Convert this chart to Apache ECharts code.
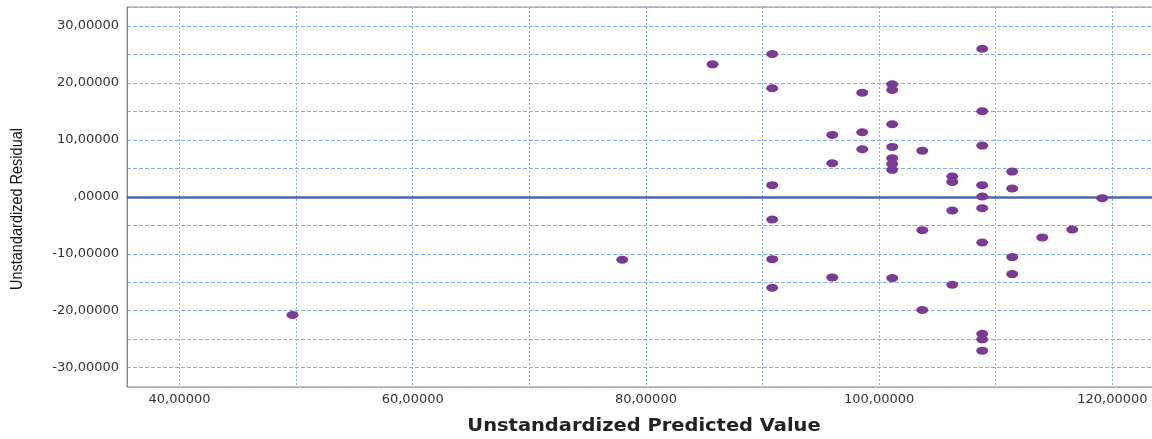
<!DOCTYPE html>
<html>
<head>
<meta charset="utf-8">
<script src="https://cdn.jsdelivr.net/npm/echarts@6/dist/echarts.min.js"></script>
<style>
  html, body { margin: 0; padding: 0; background: #ffffff; }
  #chart { width: 1152px; height: 439px; }
</style>
</head>
<body>
<div id="chart"></div>
<script>
// Predicted values (x) and residuals (y), one entry per case
const predicted = [
  49.69, 77.97, 85.71,
  90.83, 90.83, 90.83, 90.83, 90.83, 90.83,
  95.98, 95.98, 95.98,
  98.55, 98.55, 98.55,
  101.12, 101.12, 101.12, 101.12, 101.12, 101.12, 101.12, 101.12,
  103.70, 103.70, 103.70,
  106.27, 106.27, 106.27, 106.27,
  108.84, 108.84, 108.84, 108.84, 108.84, 108.84, 108.84, 108.84, 108.84, 108.84,
  111.41, 111.41, 111.41, 111.41,
  113.99, 116.56, 119.13
];
const residual = [
  -20.76, -11.05, 23.28,
  25.09, 19.07, 2.05, -3.98, -10.94, -15.96,
  10.88, 5.91, -14.15,
  18.30, 11.35, 8.37,
  19.77, 18.77, 12.75, 8.77, 6.79, 5.79, 4.74, -14.27,
  8.12, -5.85, -19.88,
  3.57, 2.63, -2.40, -15.44,
  26.02, 15.03, 9.00, 2.05, 0.06, -1.99, -8.01, -24.04, -25.03, -27.02,
  4.44, 1.46, -10.58, -13.57,
  -7.13, -5.73, -0.23
];

// Labelled tick values
const xTickLabels = [40, 60, 80, 100, 120];
const yTickLabels = [-30, -20, -10, 0, 10, 20, 30];

// Axis titles
const xTitle = 'Unstandardized Predicted Value';
const yTitle = 'Unstandardized Residual';

// Reference line for zero residual
const referenceLine = 0;

// Axis extents
const xRange = [35.5, 124];
const yRange = [-33.4, 33.35];

// Decimal-comma format with five decimals, leading zero dropped for 0
function fmt(v) {
  const s = Math.abs(v).toFixed(5).replace('.', ',');
  const body = Math.abs(v) < 1e-9 ? s.replace(/^0/, '') : s;
  return (v < 0 ? '-' : '') + body;
}
function labelIf(list) {
  return function (v) {
    return list.some(t => Math.abs(t - v) < 1e-6) ? fmt(v) : '';
  };
}

const points = predicted.map((x, i) => [x, residual[i]]);

const chart = echarts.init(document.getElementById('chart'), null, { renderer: 'canvas' });

const gridColor = '#80b0f0';

chart.setOption({
  animation: false,
  backgroundColor: '#ffffff',
  grid: {
    left: 127,
    top: 7,
    width: 1032,
    height: 380,
    show: true,
    borderColor: '#8c8c8c',
    borderWidth: 1,
    containLabel: false,
    outerBoundsMode: 'none'
  },
  graphic: [{
    // vertical title, slightly condensed along its length
    type: 'text',
    x: 17,
    y: 209,
    rotation: Math.PI / 2,
    scaleX: 0.853,
    style: {
      text: yTitle,
      font: '17px "Liberation Sans", Arial, sans-serif',
      fill: '#111111',
      align: 'center',
      verticalAlign: 'middle'
    }
  }, {
    // horizontal title, widened
    type: 'text',
    x: 644,
    y: 427,
    scaleX: 1.145,
    style: {
      text: xTitle,
      font: 'bold 17px "DejaVu Sans", sans-serif',
      fill: '#222222',
      align: 'center',
      verticalAlign: 'middle'
    }
  }],
  xAxis: {
    type: 'value',
    min: xRange[0],
    max: xRange[1],
    splitNumber: 9,
    axisLine: { show: true, lineStyle: { color: '#8c8c8c', width: 1 } },
    axisTick: { show: false },
    axisLabel: {
      formatter: labelIf(xTickLabels),
      fontFamily: 'DejaVu Sans',
      fontSize: 13,
      color: '#333333',
      margin: 6,
      showMinLabel: false,
      showMaxLabel: false
    },
    splitLine: {
      show: true,
      lineStyle: { color: gridColor, width: 1, type: [2, 2] }
    }
  },
  yAxis: {
    type: 'value',
    min: yRange[0],
    max: yRange[1],
    splitNumber: 13,
    axisLine: { show: true, lineStyle: { color: '#8c8c8c', width: 1 } },
    axisTick: { show: false },
    axisLabel: {
      formatter: labelIf(yTickLabels),
      fontFamily: 'DejaVu Sans',
      fontSize: 13,
      color: '#333333',
      margin: 8,
      showMinLabel: false,
      showMaxLabel: false
    },
    splitLine: {
      show: true,
      lineStyle: { color: gridColor, width: 1, type: [4, 2] }
    }
  },
  series: [{
    type: 'scatter',
    data: points,
    symbol: 'circle',
    symbolSize: [12, 8],
    itemStyle: { color: '#7b3a94', opacity: 1 },
    z: 3,
    markLine: {
      silent: true,
      symbol: ['none', 'none'],
      label: { show: false },
      lineStyle: { color: '#4c64ae', width: 2.5, type: 'solid' },
      data: [{ yAxis: referenceLine }],
      z: 2
    }
  }]
});
</script>
</body>
</html>
